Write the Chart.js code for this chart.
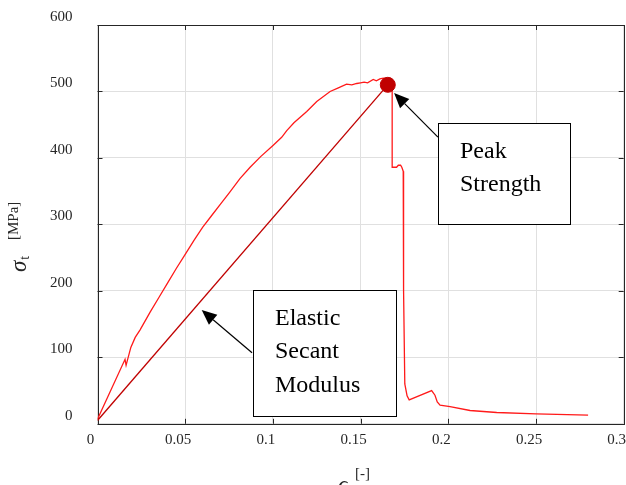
<!DOCTYPE html>
<html>
<head>
<meta charset="utf-8">
<script src="https://cdn.jsdelivr.net/npm/chart.js@4/dist/chart.umd.min.js"></script>
<style>
html,body{margin:0;padding:0;background:#fff;}
#wrap{position:relative;width:626px;height:485px;}
</style>
</head>
<body>
<div id="wrap"><canvas id="c" width="626" height="485"></canvas></div>
<script>
// ---- data ----
const strainValues = [0, 0.0157, 0.0163, 0.019, 0.0215, 0.0242, 0.03, 0.035, 0.04, 0.045, 0.05, 0.055, 0.06, 0.065, 0.07, 0.075, 0.0812, 0.087, 0.093, 0.1002, 0.105, 0.1079, 0.112, 0.1193, 0.125, 0.1326, 0.137, 0.142, 0.145, 0.1478, 0.15, 0.152, 0.154, 0.1572, 0.159, 0.161, 0.163, 0.165, 0.168, 0.168, 0.1705, 0.1715, 0.1728, 0.1735, 0.1743, 0.1745, 0.1752, 0.1765, 0.1777, 0.1905, 0.1924, 0.1937, 0.1953, 0.201, 0.2124, 0.2276, 0.25, 0.2797];
const stressValues = [7, 97, 88, 115, 130, 141, 168, 190, 212, 234, 255, 276, 296, 313, 330, 347, 369, 386, 402, 419, 431, 441, 453, 470, 485, 500, 505, 511, 510, 512, 513, 514, 513, 518, 516, 519, 520, 519, 518, 386, 386, 389, 389, 386, 380, 200, 60, 42, 36, 50, 43, 33, 28, 26, 20, 17, 15, 13];
const secantStrain = [0, 0.1655];
const secantStress = [5, 510];
const peakStrain = [0.1655];
const peakStress = [510];
const xTicks = [0, 0.05, 0.1, 0.15, 0.2, 0.25, 0.3];
const yTicks = [0, 100, 200, 300, 400, 500, 600];
const annotationPeak = {lines: ['Peak', 'Strength'], box: [0.1943, 453, 0.2694, 300.6], tail: [0.1941, 431.4], tip: [0.1691, 497.8]};
const annotationSecant = {lines: ['Elastic', 'Secant', 'Modulus'], box: [0.0885, 201.3, 0.170, 11.7], tail: [0.0881, 107], tip: [0.0594, 171.2]};

const toPts = (xs, ys) => xs.map((x, i) => ({x: x, y: ys[i]}));
const SERIF = '"Liberation Serif", "Times New Roman", serif';
const AXIS = '#262626';

const framePlugin = {
  id: 'frame',
  beforeDatasetsDraw(chart) {
    const {ctx, chartArea: a, scales} = chart;
    ctx.save();
    ctx.strokeStyle = AXIS;
    ctx.lineWidth = 1;
    ctx.beginPath();
    xTicks.forEach(v => {
      const px = Math.round(scales.x.getPixelForValue(v)) + 0.5;
      ctx.moveTo(px, a.bottom); ctx.lineTo(px, a.bottom - 5);
      ctx.moveTo(px, a.top); ctx.lineTo(px, a.top + 5);
    });
    yTicks.forEach(v => {
      const py = Math.round(scales.y.getPixelForValue(v)) + 0.5;
      ctx.moveTo(a.left, py); ctx.lineTo(a.left + 5, py);
      ctx.moveTo(a.right, py); ctx.lineTo(a.right - 5, py);
    });
    ctx.stroke();
    ctx.strokeRect(Math.round(a.left) + 0.5, Math.round(a.top) + 0.5, Math.round(a.right - a.left), Math.round(a.bottom - a.top));
    ctx.restore();
  },
  afterDraw(chart) {
    const {ctx, scales} = chart;
    const X = v => scales.x.getPixelForValue(v), Y = v => scales.y.getPixelForValue(v);
    ctx.save();
    // annotations
    [annotationPeak, annotationSecant].forEach(an => {
      const l = Math.round(X(an.box[0])) + 0.5, t = Math.round(Y(an.box[1])) + 0.5;
      const r = Math.round(X(an.box[2])) + 0.5, b = Math.round(Y(an.box[3])) + 0.5;
      ctx.fillStyle = '#fff';
      ctx.fillRect(l, t, r - l, b - t);
      ctx.strokeStyle = '#000'; ctx.lineWidth = 1;
      ctx.strokeRect(l, t, r - l, b - t);
      ctx.fillStyle = '#000';
      ctx.font = '24px ' + SERIF;
      ctx.textBaseline = 'alphabetic'; ctx.textAlign = 'left';
      an.lines.forEach((s, i) => ctx.fillText(s, l + 21.5, t + 34.5 + i * 33.3));
      // arrow
      const x1 = X(an.tail[0]), y1 = Y(an.tail[1]), x2 = X(an.tip[0]), y2 = Y(an.tip[1]);
      const ang = Math.atan2(y2 - y1, x2 - x1);
      const hl = 15, hw = 6.5;
      const bx = x2 - hl * Math.cos(ang), by = y2 - hl * Math.sin(ang);
      ctx.beginPath(); ctx.moveTo(x1, y1); ctx.lineTo(bx, by); ctx.lineWidth = 1.2; ctx.stroke();
      ctx.beginPath();
      ctx.moveTo(x2, y2);
      ctx.lineTo(bx + hw * Math.sin(ang), by - hw * Math.cos(ang));
      ctx.lineTo(bx - hw * Math.sin(ang), by + hw * Math.cos(ang));
      ctx.closePath(); ctx.fill();
    });
    // y title
    ctx.save();
    ctx.translate(25.5, 272);
    ctx.rotate(-Math.PI / 2);
    ctx.fillStyle = AXIS;
    ctx.textAlign = 'left'; ctx.textBaseline = 'alphabetic';
    ctx.font = 'italic 23px ' + SERIF;
    ctx.fillText('σ', 0, 0);
    let w = ctx.measureText('σ').width;
    ctx.font = '14px ' + SERIF;
    ctx.fillText('t', w + 1, 3);
    ctx.font = '15px ' + SERIF;
    ctx.fillText('[MPa]', 32, -8);
    ctx.restore();
    // x title
    ctx.fillStyle = AXIS;
    ctx.font = 'italic 23px ' + SERIF;
    ctx.fillText('ϵ', 338, 492);
    ctx.font = '15px ' + SERIF;
    ctx.fillText('[-]', 355, 478);
    ctx.restore();
  }
};

new Chart(document.getElementById('c'), {
  type: 'scatter',
  data: {
    datasets: [
      {data: toPts(peakStrain, peakStress), pointRadius: 7.5, pointBackgroundColor: '#c00000', pointBorderColor: '#c00000', showLine: false, order: 0},
      {data: toPts(strainValues, stressValues), showLine: true, borderColor: '#ff1a1a', borderWidth: 1.3, pointRadius: 0, tension: 0, order: 2},
      {data: toPts(secantStrain, secantStress), showLine: true, borderColor: '#c00000', borderWidth: 1.3, pointRadius: 0, order: 1}
    ]
  },
  options: {
    responsive: false,
    animation: false,
    layout: {autoPadding: false, padding: {left: 0, right: 2.3, top: 25, bottom: 0}},
    plugins: {legend: {display: false}, tooltip: {enabled: false}},
    scales: {
      x: {
        type: 'linear', min: 0, max: 0.3,
        afterBuildTicks: s => { s.ticks = xTicks.map(v => ({value: v})); },
        afterFit: s => { s.height = 61.2; s.paddingLeft = 0; s.paddingRight = 0; },
        ticks: {font: {family: SERIF, size: 15}, color: AXIS, padding: 7, labelOffset: -7, maxRotation: 0, autoSkip: false,
          callback: v => String(+v.toFixed(2))},
        grid: {color: '#e0e0e0', lineWidth: 1, drawTicks: false},
        border: {display: false}
      },
      y: {
        type: 'linear', min: 0, max: 600,
        afterBuildTicks: s => { s.ticks = yTicks.map(v => ({value: v})); },
        afterFit: s => { s.width = 97.5; s.paddingTop = 0; s.paddingBottom = 0; },
        ticks: {font: {family: SERIF, size: 15}, color: AXIS, padding: 25, labelOffset: -8, autoSkip: false},
        grid: {color: '#e0e0e0', lineWidth: 1, drawTicks: false},
        border: {display: false}
      }
    }
  },
  plugins: [framePlugin]
});
</script>
</body>
</html>
